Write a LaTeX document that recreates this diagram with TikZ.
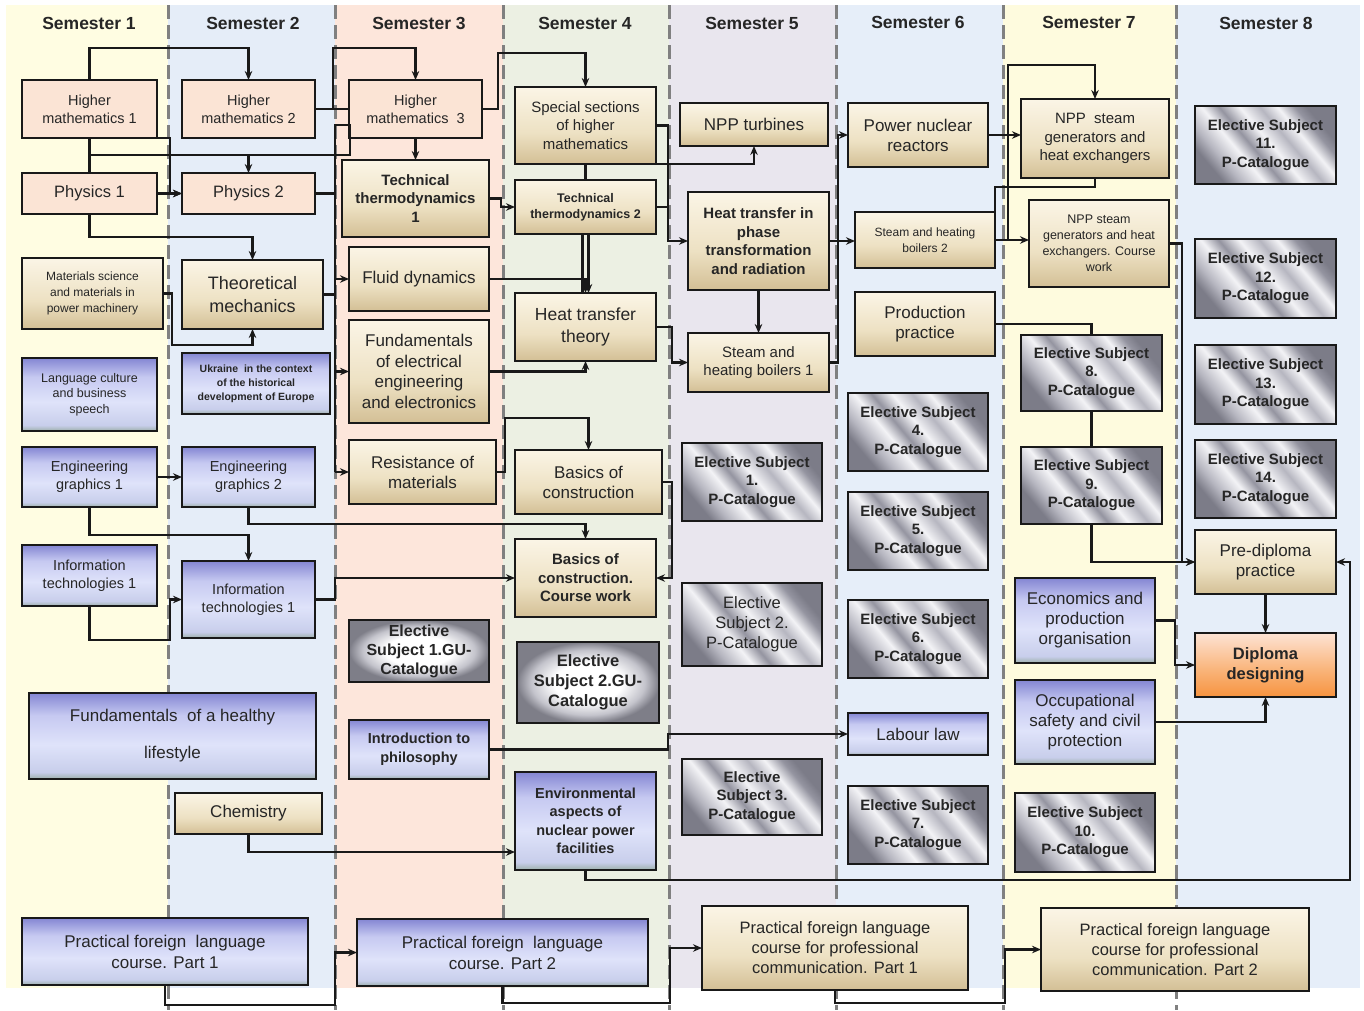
\documentclass[tikz,border=0pt]{standalone}
\usepackage{fontspec}
\setmainfont{Liberation Sans}
\usetikzlibrary{arrows.meta,calc}
\definecolor{cSa}{HTML}{FFFDE2}
\definecolor{cSb}{HTML}{E5EDF8}
\definecolor{cSc}{HTML}{FDE6DB}
\definecolor{cSd}{HTML}{ECF0E3}
\definecolor{cSe}{HTML}{E9E6EE}
\definecolor{cSf}{HTML}{E6EEF9}
\definecolor{cSg}{HTML}{FEFBDE}
\definecolor{cSh}{HTML}{E6EEF9}
\definecolor{sepc}{HTML}{808080}
\definecolor{peachc}{HTML}{FBE4D5}
\definecolor{txtc}{HTML}{262626}
\definecolor{mtA}{HTML}{7C7C88}
\definecolor{mtB}{HTML}{B6B6C0}
\definecolor{mtC}{HTML}{F3F3F6}
\definecolor{mtD}{HTML}{9494A0}
\definecolor{blA}{HTML}{9DB0AA}
\definecolor{blB}{HTML}{C8CEEB}
\definecolor{blC}{HTML}{DFE3FA}
\definecolor{blD}{HTML}{C6C9F1}
\definecolor{blE}{HTML}{8486D3}
\definecolor{tnA}{HTML}{D3BF95}
\definecolor{tnB}{HTML}{EDE1C3}
\definecolor{tnC}{HTML}{FBF5E6}
\definecolor{orA}{HTML}{F7933F}
\definecolor{orB}{HTML}{F9B276}
\definecolor{orC}{HTML}{FDE3D4}
\definecolor{guA}{HTML}{7E7E88}
\definecolor{guB}{HTML}{C4C4CC}
\pgfdeclarehorizontalshading{metalsh}{100bp}{color(0bp)=(mtA); color(25bp)=(mtA); color(31bp)=(mtB); color(39bp)=(mtC); color(45bp)=(mtD); color(52bp)=(mtC); color(59bp)=(mtB); color(65bp)=(mtC); color(71bp)=(mtD); color(75bp)=(mtA); color(100bp)=(mtA)}
\pgfdeclareverticalshading{bluesh}{100bp}{color(0bp)=(blA); color(25bp)=(blA); color(29bp)=(blB); color(45bp)=(blC); color(62bp)=(blD); color(75bp)=(blE); color(100bp)=(blE)}
\pgfdeclareverticalshading{tansh}{100bp}{color(0bp)=(tnA); color(25bp)=(tnA); color(45bp)=(tnB); color(75bp)=(tnC); color(100bp)=(tnC)}
\pgfdeclareverticalshading{orangesh}{100bp}{color(0bp)=(orA); color(25bp)=(orA); color(45bp)=(orB); color(75bp)=(orC); color(100bp)=(orC)}
\pgfdeclareradialshading{gush}{\pgfpoint{0bp}{0bp}}{color(0bp)=(white); color(12bp)=(white); color(20bp)=(guB); color(25bp)=(guA); color(50bp)=(guA)}
\newcommand\fs[2]{\fontsize{#1}{#2}\selectfont}
\newcommand\bx[7]{\node[#1, minimum width={(#5)-(#3)}, minimum height={(#6)-(#4)}] (#2) at ({((#3)+(#5))/2},{((#4)+(#6))/2}) {#7};}
\begin{document}
\begin{tikzpicture}[x=1pt,y=-1pt,
  bx/.style={draw=black!90, line width=2.6pt, align=center, inner sep=1pt, outer sep=0pt, text=txtc},
  pch/.style={bx, fill=peachc},
  tan/.style={bx, shade, shading=tansh},
  blu/.style={bx, shade, shading=bluesh},
  mtl/.style={bx, shade, shading=metalsh, shading angle=40},
  gu/.style={bx, shade, shading=gush},
  orng/.style={bx, shade, shading=orangesh},
  hdr/.style={font={\fs{17.5}{20}\bfseries}, text=txtc},
  sepline/.style={draw=sepc, line width=3pt, dash pattern=on 14pt off 6pt},
  ln/.style={draw=black!90, line width=2.2pt},
  arr/.style={draw=black!90, line width=2.2pt, -{Stealth[length=9pt,width=7.5pt]}},
  esb/.style={mtl, font={\fs{15}{18.5}\bfseries}}
]
\useasboundingbox (0,0) rectangle (1364,1010);
\fill[white] (0,0) rectangle (1364,1010);
% semester columns
\fill[cSa] (6,5) rectangle (168,988);
\fill[cSb] (168,5) rectangle (335,988);
\fill[cSc] (335,5) rectangle (503,988);
\fill[cSd] (503,5) rectangle (669,988);
\fill[cSe] (669,5) rectangle (836,988);
\fill[cSf] (836,5) rectangle (1003,988);
\fill[cSg] (1003,5) rectangle (1176,988);
\fill[cSh] (1176,5) rectangle (1360,988);
\foreach \xx in {168,335,503,669,836,1003,1176} \draw[sepline] (\xx,5) -- (\xx,1010);
% headers
\node[hdr] (h1) at (89,23) {Semester 1};
\node[hdr] (h2) at (253,23) {Semester 2};
\node[hdr] (h3) at (419,23) {Semester 3};
\node[hdr] (h4) at (585,23) {Semester 4};
\node[hdr] (h5) at (752,23) {Semester 5};
\node[hdr] (h6) at (918,22) {Semester 6};
\node[hdr] (h7) at (1089,22) {Semester 7};
\node[hdr] (h8) at (1266,23) {Semester 8};
% semester 1
\bx{pch, font={\fs{14.5}{18}}}{hmA}{22}{80}{157}{138}{Higher\\mathematics 1}
\bx{pch, font={\fs{16.5}{20}}}{phA}{22}{173}{157}{214}{Physics 1}
\bx{tan, font={\fs{12}{16}}}{mat}{22}{258}{163}{329}{Materials science\\and materials in\\power machinery}
\bx{blu, font={\fs{12.5}{15.5}}}{lang}{22}{358}{157}{431}{Language culture\\and business\\speech}
\bx{blu, font={\fs{14.5}{18}}}{egA}{22}{447}{157}{507}{Engineering\\graphics 1}
\bx{blu, font={\fs{14.5}{18}}}{itA}{22}{545}{157}{606}{Information\\technologies 1}
\bx{blu, font={\fs{17}{37}}}{fhl}{29}{693}{316}{779}{Fundamentals\ \ of a healthy\\lifestyle}
\bx{blu, font={\fs{17}{21}}}{pflA}{22}{918}{308}{985}{Practical foreign\ \ language\\course. Part 1}
% semester 2
\bx{pch, font={\fs{14.5}{18}}}{hmB}{182}{80}{315}{138}{Higher\\mathematics 2}
\bx{pch, font={\fs{16.5}{20}}}{phB}{182}{173}{315}{214}{Physics 2}
\bx{tan, font={\fs{18}{23}}}{tm}{182}{260}{323}{329}{Theoretical\\mechanics}
\bx{blu, font={\fs{10.5}{14}\bfseries}}{ukr}{182}{353}{330}{414}{Ukraine\ \ in the context\\of the historical\\development of Europe}
\bx{blu, font={\fs{14.5}{18}}}{egB}{182}{447}{315}{507}{Engineering\\graphics 2}
\bx{blu, font={\fs{14.5}{18}}}{itB}{182}{561}{315}{638}{Information\\technologies 1}
\bx{tan, font={\fs{17}{20}}}{chem}{175}{793}{322}{834}{Chemistry}
% semester 3
\bx{pch, font={\fs{14.5}{18}}}{hmC}{349}{80}{482}{138}{Higher\\mathematics\ \ 3}
\bx{tan, font={\fs{15}{18.5}\bfseries}}{ttA}{342}{160}{489}{237}{Technical\\thermodynamics\\1}
\bx{tan, font={\fs{17}{20}}}{fd}{349}{247}{489}{311}{Fluid dynamics}
\bx{tan, font={\fs{17}{20.5}}}{fee}{349}{320}{489}{423}{Fundamentals\\of electrical\\engineering\\and electronics}
\bx{tan, font={\fs{17}{20}}}{rom}{349}{440}{496}{504}{Resistance of\\materials}
\bx{gu, font={\fs{16}{19}\bfseries}}{esgA}{349}{620}{489}{682}{Elective\\Subject 1.GU-\\Catalogue}
\bx{blu, font={\fs{14.5}{19}\bfseries}}{phil}{349}{720}{489}{779}{Introduction to\\philosophy}
\bx{blu, font={\fs{17}{21}}}{pflB}{357}{919}{648}{986}{Practical foreign\ \ language\\course. Part 2}
% semester 4
\bx{tan, font={\fs{15}{18.5}}}{ss}{515}{87}{656}{164}{Special sections\\of higher\\mathematics}
\bx{tan, font={\fs{12.5}{16}\bfseries}}{ttB}{515}{180}{656}{234}{Technical\\thermodynamics 2}
\bx{tan, font={\fs{17.5}{22}}}{htt}{515}{293}{656}{361}{Heat transfer\\theory}
\bx{tan, font={\fs{17}{20}}}{boc}{515}{450}{662}{514}{Basics of\\construction}
\bx{tan, font={\fs{15}{18.5}\bfseries}}{bocw}{515}{539}{656}{617}{Basics of\\construction.\\Course work}
\bx{gu, font={\fs{16.5}{20}\bfseries}}{esgB}{517}{642}{659}{723}{Elective\\Subject 2.GU-\\Catalogue}
\bx{blu, font={\fs{14.5}{18.5}\bfseries}}{env}{515}{772}{656}{870}{Environmental\\aspects of\\nuclear power\\facilities}
% semester 5
\bx{tan, font={\fs{17}{20}}}{npt}{680}{103}{828}{146}{NPP turbines}
\bx{tan, font={\fs{15}{18.5}\bfseries}}{htpt}{688}{192}{829}{290}{Heat transfer in\\phase\\transformation\\and radiation}
\bx{tan, font={\fs{15}{18}}}{shbA}{688}{333}{829}{392}{Steam and\\heating boilers 1}
\bx{esb}{espA}{682}{443}{822}{521}{Elective Subject\\1.\\P-Catalogue}
\bx{mtl, font={\fs{16.5}{20}}}{espB}{682}{583}{822}{666}{Elective\\Subject 2.\\P-Catalogue}
\bx{mtl, font={\fs{15}{18.5}\bfseries}}{espC}{682}{759}{822}{835}{Elective\\Subject 3.\\P-Catalogue}
\bx{tan, font={\fs{16.5}{20}}}{pflpA}{702}{906}{968}{990}{Practical foreign language\\course for professional\\communication. Part 1}
% semester 6
\bx{tan, font={\fs{17}{20}}}{pnr}{848}{103}{988}{167}{Power nuclear\\reactors}
\bx{tan, font={\fs{12}{16}}}{shbB}{855}{212}{995}{268}{Steam and heating\\boilers 2}
\bx{tan, font={\fs{17}{20}}}{pp}{855}{292}{995}{356}{Production\\practice}
\bx{esb}{es4}{848}{393}{988}{471}{Elective Subject\\4.\\P-Catalogue}
\bx{esb}{es5}{848}{492}{988}{570}{Elective Subject\\5.\\P-Catalogue}
\bx{esb}{es6}{848}{600}{988}{678}{Elective Subject\\6.\\P-Catalogue}
\bx{blu, font={\fs{17}{20}}}{ll}{848}{713}{988}{755}{Labour law}
\bx{esb}{es7}{848}{786}{988}{864}{Elective Subject\\7.\\P-Catalogue}
% semester 7
\bx{tan, font={\fs{15}{18.5}}}{sg}{1021}{99}{1169}{178}{NPP\ \ steam\\generators and\\heat exchangers}
\bx{tan, font={\fs{12.5}{16}}}{sgcw}{1029}{200}{1169}{287}{NPP steam\\generators and heat\\exchangers. Course\\work}
\bx{esb}{es8}{1021}{335}{1162}{411}{Elective Subject\\8.\\P-Catalogue}
\bx{esb}{es9}{1021}{447}{1162}{524}{Elective Subject\\9.\\P-Catalogue}
\bx{blu, font={\fs{17}{20}}}{econ}{1015}{578}{1155}{663}{Economics and\\production\\organisation}
\bx{blu, font={\fs{17}{20}}}{oscp}{1015}{680}{1155}{764}{Occupational\\safety and civil\\protection}
\bx{esb}{es10}{1015}{793}{1155}{872}{Elective Subject\\10.\\P-Catalogue}
\bx{tan, font={\fs{16.5}{20}}}{pflpB}{1041}{908}{1309}{991}{Practical foreign language\\course for professional\\communication. Part 2}
% semester 8
\bx{esb}{es11}{1195}{106}{1336}{184}{Elective Subject\\11.\\P-Catalogue}
\bx{esb}{es12}{1195}{239}{1336}{318}{Elective Subject\\12.\\P-Catalogue}
\bx{esb}{es13}{1195}{345}{1336}{424}{Elective Subject\\13.\\P-Catalogue}
\bx{esb}{es14}{1195}{440}{1336}{518}{Elective Subject\\14.\\P-Catalogue}
\bx{tan, font={\fs{17}{20}}}{pre}{1195}{530}{1336}{594}{Pre-diploma\\practice}
\bx{orng, font={\fs{16.5}{20}\bfseries}}{dip}{1195}{633}{1336}{697}{Diploma\\designing}
% connectors
\draw[arr] (hmA.north) -- ++(0,-32) -| (hmB.north);
\draw[ln] (hmB.east) -- (hmC.west);
\draw[arr] (hmB.east) -| (333,48) -| (hmC.north);
\draw[arr] (hmC.east) -| (498,53) -| (ss.north);
\draw[ln] (hmA.south) -- (phA.north);
\draw[ln] (hmA.south |- 0,155) -- (350,155) -- (350,125) -- (335,125) -- (335,472);
\draw[arr] (phB.north |- 0,155) -- (phB.north);
\draw[arr] (hmA.south east) -- (170,138) |- (phB.west);
\draw[arr] (phA.east) -- (phB.west);
\draw[arr] (phA.south) -- ++(0,23) -| (tm.north);
\draw[arr] (mat.east) -| (172,345) -| (tm.south);
\draw[ln] (phB.east) -- (phB.east -| 335,0);
\draw[ln] (tm.east) -- (tm.east -| 335,0);
\draw[arr] (fd.west -| 335,0) -- (fd.west);
\draw[arr] (fee.west -| 335,0) -- (fee.west);
\draw[arr] (rom.west -| 335,0) -- (rom.west);
\draw[arr] (egA.east) -- (egB.west);
\draw[arr] (egA.south) -- ++(0,28) -| (itB.north);
\draw[arr] (egB.south) -- (egB.south |- 0,524) -| (bocw.north);
\draw[arr] (itA.south) -- ++(0,34) -| (170,599.5) -- (itB.west);
\draw[arr] (itB.east) -| (335,578) -- (bocw.west);
\draw[arr] (rom.east) -| (505,418) -| (boc.north);
\draw[arr] (fee.east) -| (htt.south);
\draw[arr] (fd.east) -| (htt.north);
\draw[arr] ($(ttB.south)+(3,0)$) -- ($(htt.north)+(3,0)$);
\draw[ln] ($(ttB.south)+(-3,0)$) -- ($(htt.north)+(-3,0)$);
\draw[arr] (ttA.east) -- ++(12,0) |- (ttB.west);
\draw[arr] (hmC.south) -- (ttA.north);
\draw[ln] (ss.south) -- (ttB.north);
\draw[arr] (ss.south) -| (npt.south);
\draw[arr] (ss.east) -| (668,241) -- (htpt.west);
\draw[ln] (ttB.east) -- (ttB.east -| 668,0);
\draw[arr] (htt.east) -- ++(16,0) |- (shbA.west);
\draw[arr] (boc.east) -- ++(10,0) |- (bocw.east);
\draw[arr] (htpt.south) -- (shbA.north);
\draw[arr] (shbA.east) -| (838,135) -- (pnr.west);
\draw[arr] (htpt.east) -- (htpt.east -| shbB.west);
\draw[arr] (pnr.east) -- (pnr.east -| sg.west);
\draw[arr] (shbB.east) -- (shbB.east -| sgcw.west);
\draw[arr] (shbB.east -| 1008,0) -- (1008,65) -| (sg.north);
\draw[ln] (sg.south) -- ++(0,9) -| (shbB.north east);
\draw[ln] (pp.east) -| (es8.north);
\draw[ln] (es8.south) -- (es9.north);
\draw[arr] (es9.south) |- (pre.west);
\draw[arr] (sgcw.east) -- ++(13,0) |- (pre.west);
\draw[arr] (pre.south) -- (dip.north);
\draw[arr] (econ.east) -- ++(20,0) |- (dip.west);
\draw[arr] (oscp.east) -| (dip.south);
\draw[arr] (env.south) |- (1350,880) |- (pre.east);
\draw[arr] (chem.south) |- ($(env.west)+(0,31)$);
\draw[arr] (phil.east) -- (668,749.5) |- (ll.west);
\draw[arr] (pflA.south) -- ++(0,20) -| ($(pflB.west)+(-22,0)$) -- (pflB.west);
\draw[arr] (pflB.south) -- ++(0,17) -| ($(pflpA.west)+(-32,0)$) -- (pflpA.west);
\draw[arr] (pflpA.south) -- ++(0,13) -| ($(pflpB.west)+(-36,0)$) -- (pflpB.west);
\end{tikzpicture}
\end{document}
